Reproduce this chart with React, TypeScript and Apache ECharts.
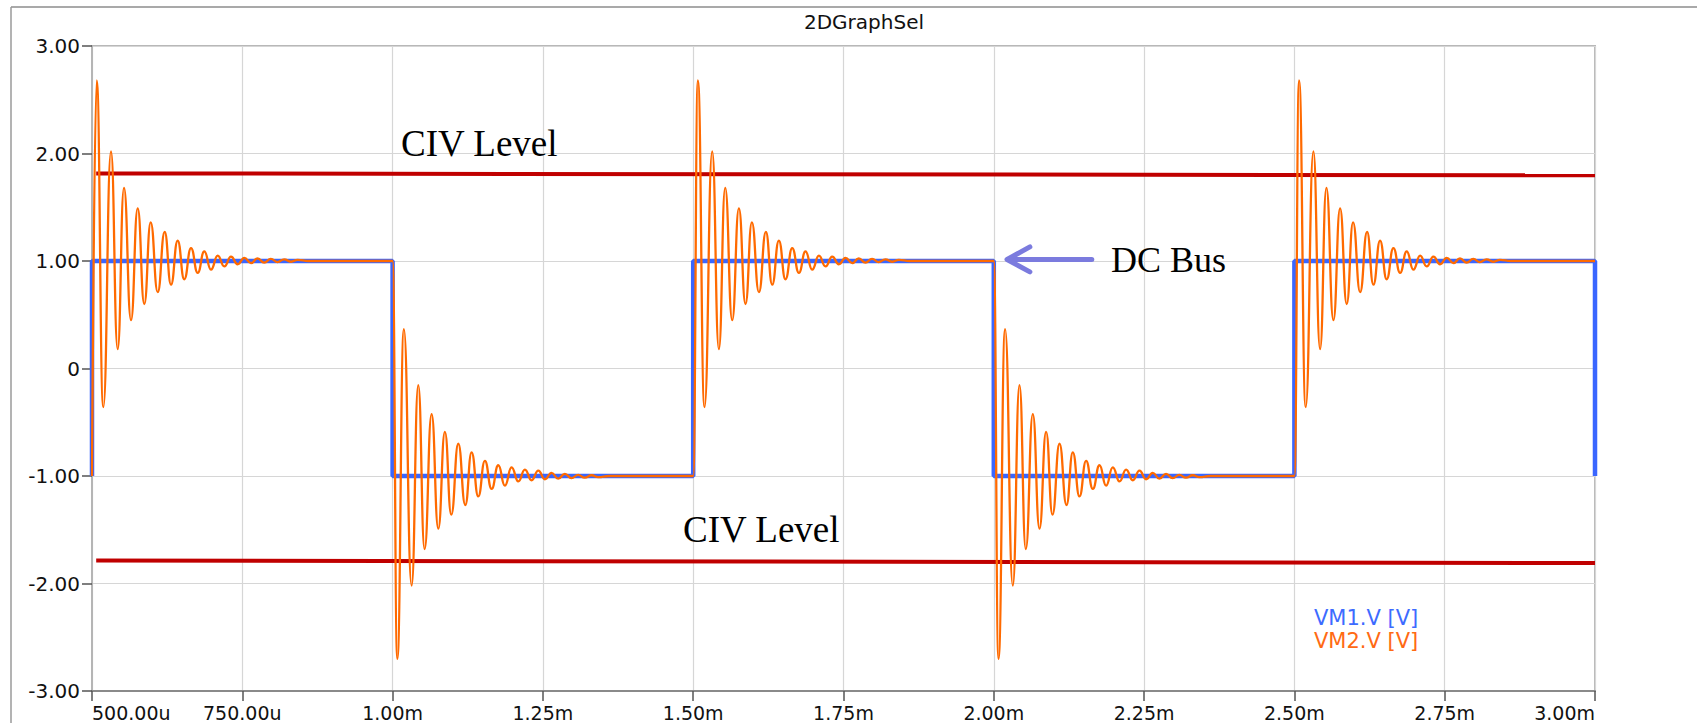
import React, { useEffect, useRef } from 'react';
import * as echarts from 'echarts';

// ---- axis ticks ----
const xTickValues = [0.5, 0.75, 1.0, 1.25, 1.5, 1.75, 2.0, 2.25, 2.5, 2.75, 3.0];
const xTickLabels = ['500.00u', '750.00u', '1.00m', '1.25m', '1.50m', '1.75m', '2.00m', '2.25m', '2.50m', '2.75m', '3.00m'];
const yTickValues = [-3, -2, -1, 0, 1, 2, 3];
const yTickLabels = ['-3.00', '-2.00', '-1.00', '0', '1.00', '2.00', '3.00'];

// ---- VM1: square wave (time in ms) ----
const vm1EdgeTimes = [0.5, 1.0, 1.5, 2.0, 2.5, 3.0];
const vm1LevelBefore = [-1, 1, -1, 1, -1, 1];
const vm1LevelAfter = [1, -1, 1, -1, 1, -1];

// ---- VM2: ringing after each edge (extrema) ----
const vm2BurstStarts = [0.5, 1.0, 1.5, 2.0, 2.5];
const vm2BurstKinds = ['rise', 'fall', 'rise', 'fall', 'rise'];
const ringOffsets = [0, 0.0078, 0.0188, 0.0316, 0.0427, 0.0532, 0.0649, 0.076, 0.087, 0.0976, 0.1093, 0.1209, 0.1314, 0.1425, 0.1535, 0.1647, 0.1758, 0.1868, 0.1979, 0.2091, 0.2201, 0.2312, 0.2423, 0.2533, 0.2644, 0.2754, 0.2865, 0.2975, 0.3086, 0.3196, 0.331, 0.342, 0.36];
const riseRing = [-1, 2.68, -0.36, 2.02, 0.18, 1.68, 0.45, 1.49, 0.6, 1.36, 0.71, 1.27, 0.78, 1.19, 0.83, 1.12, 0.89, 1.09, 0.92, 1.05, 0.95, 1.04, 0.97, 1.03, 0.98, 1.025, 0.985, 1.02, 0.99, 1.015, 0.993, 1.01, 1.0];
const fallRing = [1, -2.7, 0.366, -2.02, -0.155, -1.68, -0.425, -1.49, -0.59, -1.36, -0.7, -1.27, -0.78, -1.19, -0.86, -1.12, -0.9, -1.09, -0.92, -1.05, -0.94, -1.04, -0.95, -1.03, -0.97, -1.025, -0.98, -1.02, -0.99, -1.015, -0.993, -1.01, -1.0];
const vm2EndPoint = [3.0, 1.0];

// ---- annotations (data coordinates) ----
const civUpper = [[0.507, 1.815], [3.0, 1.797]];
const civLower = [[0.507, -1.785], [3.0, -1.81]];
const arrowShaft = [[2.163, 1.014], [2.024, 1.014]];
const arrowHead = [[2.06, 1.131], [2.022, 1.014], [2.06, 0.899]];

function buildVm1() {
  const pts: number[][] = [];
  vm1EdgeTimes.forEach((t, i) => {
    pts.push([t, vm1LevelBefore[i]]);
    pts.push([t, vm1LevelAfter[i]]);
  });
  return pts;
}

function buildVm2() {
  const pts: number[][] = [];
  vm2BurstStarts.forEach((t0, i) => {
    const vals = vm2BurstKinds[i] === 'rise' ? riseRing : fallRing;
    ringOffsets.forEach((dt, j) => pts.push([t0 + dt, vals[j]]));
  });
  pts.push(vm2EndPoint);
  return pts;
}

function pickLabel(values: number[], labels: string[], v: number) {
  const i = values.findIndex((t) => Math.abs(t - v) < 1e-6);
  return i >= 0 ? labels[i] : '';
}

export default function App() {
  const ref = useRef<HTMLDivElement>(null);
  useEffect(() => {
    if (!ref.current) return;
    const chart = echarts.init(ref.current, undefined, { renderer: 'svg' });
    const serif = "'Liberation Serif', 'Times New Roman', serif";
    const sans = "'DejaVu Sans', sans-serif";
    chart.setOption({
      animation: false,
      backgroundColor: '#ffffff',
      grid: {
        left: 92, right: 111, top: 46, bottom: 32,
        show: true, borderColor: '#b8b8b8', borderWidth: 2, backgroundColor: 'transparent',
      },
      legend: {
        data: [
          { name: 'VM1.V [V]', textStyle: { color: '#3D6BFF' } },
          { name: 'VM2.V [V]', textStyle: { color: '#FF6A13' } },
        ],
        orient: 'vertical', left: 1309, top: 607, icon: 'none',
        itemWidth: 0, itemHeight: 21, itemGap: 2, padding: 0, selectedMode: false,
        textStyle: { fontFamily: sans, fontSize: 21 },
      },
      xAxis: {
        type: 'value', min: 0.5, max: 3.0, interval: 0.25,
        axisLine: { show: true, onZero: false, lineStyle: { color: '#8a8a8a', width: 2 } },
        axisTick: { show: true, length: 10, lineStyle: { color: '#555', width: 1.5 } },
        axisLabel: {
          formatter: (v: number) => pickLabel(xTickValues, xTickLabels, v),
          fontFamily: sans, fontSize: 19, color: '#111', margin: 12,
          alignMinLabel: 'left', alignMaxLabel: 'right',
        },
        splitLine: { show: true, lineStyle: { color: '#d6d6d6', width: 1.2 } },
      },
      yAxis: {
        type: 'value', min: -3, max: 3, interval: 1,
        axisLine: { show: true, onZero: false, lineStyle: { color: '#b5b5b5', width: 2 } },
        axisTick: { show: true, length: 10, lineStyle: { color: '#555', width: 1.5 } },
        axisLabel: {
          formatter: (v: number) => pickLabel(yTickValues, yTickLabels, v),
          fontFamily: sans, fontSize: 20, color: '#111', margin: 12,
        },
        splitLine: { show: true, lineStyle: { color: '#d6d6d6', width: 1.2 } },
      },
      graphic: [
        { type: 'line', shape: { x1: 11, y1: 7, x2: 1697, y2: 7 }, style: { stroke: '#8c8c8c', lineWidth: 1.5 }, silent: true },
        { type: 'line', shape: { x1: 11, y1: 7, x2: 11, y2: 723 }, style: { stroke: '#9a9a9a', lineWidth: 1.5 }, silent: true },
        { type: 'text', x: 864, y: 22, style: { text: '2DGraphSel', fontFamily: sans, fontSize: 20, fill: '#111', textAlign: 'center', textVerticalAlign: 'middle' }, silent: true },
        { type: 'text', x: 401, y: 143, style: { text: 'CIV Level', fontFamily: serif, fontSize: 37, fill: '#000', textAlign: 'left', textVerticalAlign: 'middle' }, silent: true, z: 20 },
        { type: 'text', x: 683, y: 529, style: { text: 'CIV Level', fontFamily: serif, fontSize: 37, fill: '#000', textAlign: 'left', textVerticalAlign: 'middle' }, silent: true, z: 20 },
        { type: 'text', x: 1111, y: 260, style: { text: 'DC Bus', fontFamily: serif, fontSize: 36, fill: '#000', textAlign: 'left', textVerticalAlign: 'middle' }, silent: true, z: 20 },
      ],
      series: [
        {
          name: 'CIV upper', type: 'line', data: civUpper, symbol: 'none', silent: true,
          lineStyle: { color: '#C00000', width: 4 },
        },
        {
          name: 'CIV lower', type: 'line', data: civLower, symbol: 'none', silent: true,
          lineStyle: { color: '#C00000', width: 4 },
        },
        {
          name: 'VM1.V [V]', type: 'line', data: buildVm1(), symbol: 'none', silent: true, clip: false,
          color: '#3A66FF', lineStyle: { color: '#3A66FF', width: 4.5 },
        },
        {
          name: 'VM2.V [V]', type: 'line', data: buildVm2(), symbol: 'none', silent: true,
          smooth: 0.5, smoothMonotone: 'x',
          color: '#FF6A00', lineStyle: { color: '#FF6A00', width: 2.3 },
        },
        {
          name: 'arrow shaft', type: 'line', data: arrowShaft, symbol: 'none', silent: true,
          lineStyle: { color: '#7B7BDE', width: 5, cap: 'round', join: 'round' },
        },
        {
          name: 'arrow head', type: 'line', data: arrowHead, symbol: 'none', silent: true,
          lineStyle: { color: '#7B7BDE', width: 5, cap: 'round', join: 'round' },
        },
      ],
    });
    return () => chart.dispose();
  }, []);
  return <div ref={ref} style={{ position: 'absolute', left: 0, top: 0, width: 1706, height: 723 }} />;
}
